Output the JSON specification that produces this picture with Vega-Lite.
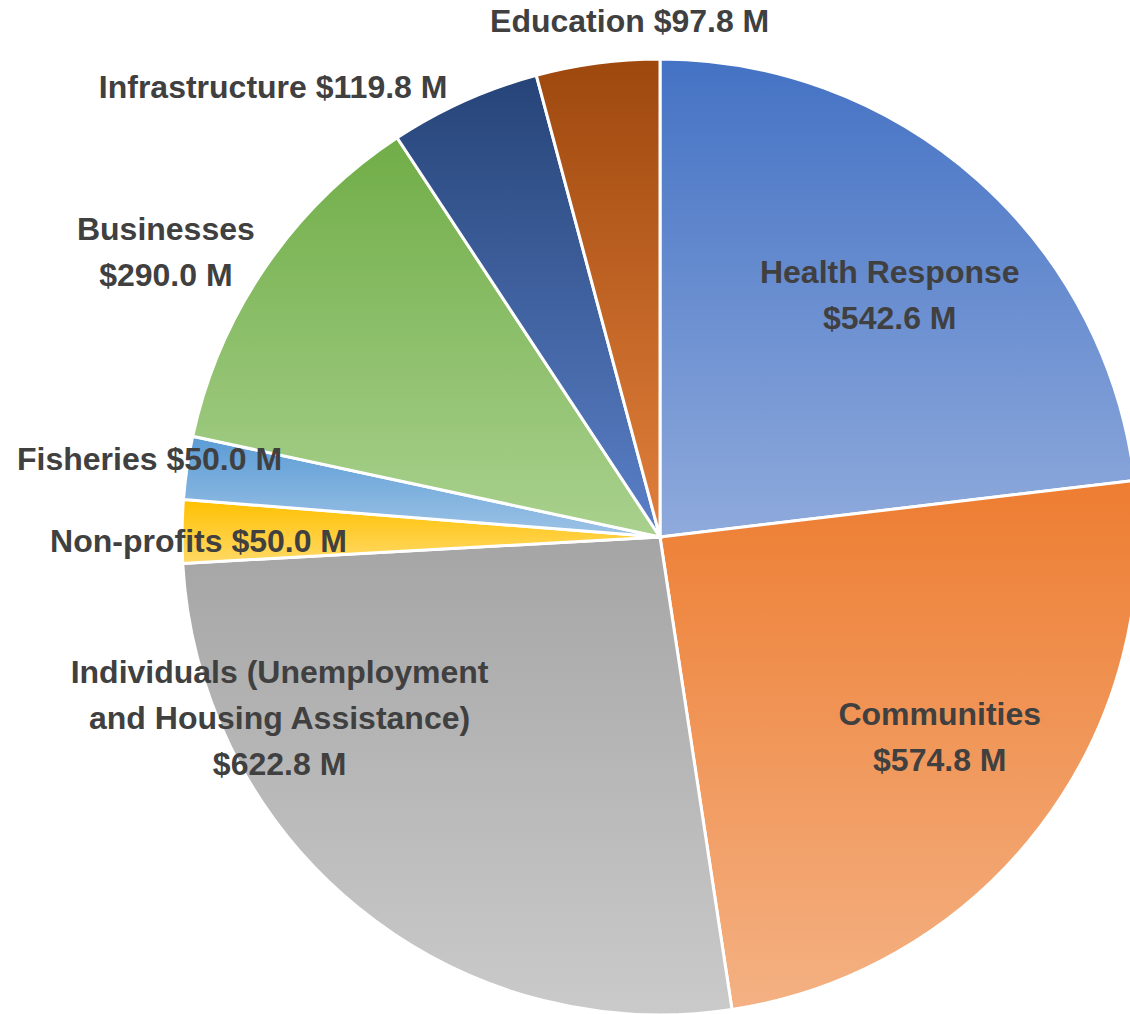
{
  "$schema": "https://vega.github.io/schema/vega-lite/v6.json",
  "width": 956,
  "height": 956,
  "autosize": "none",
  "padding": {"left": 182, "top": 59, "right": 0, "bottom": 0},
  "background": "white",
  "config": {"view": {"stroke": null}},
  "data": {
    "values": [
      {"order": 1, "category": "Health Response", "value": 542.6, "label": "Health Response\n$542.6 M"},
      {"order": 2, "category": "Communities", "value": 574.8, "label": "Communities\n$574.8 M"},
      {"order": 3, "category": "Individuals", "value": 622.8, "label": "Individuals (Unemployment\nand Housing Assistance)\n$622.8 M"},
      {"order": 4, "category": "Non-profits", "value": 50.0, "label": "Non-profits $50.0 M"},
      {"order": 5, "category": "Fisheries", "value": 50.0, "label": "Fisheries $50.0 M"},
      {"order": 6, "category": "Businesses", "value": 290.0, "label": "Businesses\n$290.0 M"},
      {"order": 7, "category": "Infrastructure", "value": 119.8, "label": "Infrastructure $119.8 M"},
      {"order": 8, "category": "Education", "value": 97.8, "label": "Education $97.8 M"}
    ]
  },
  "transform": [
    {"stack": "value", "groupby": [], "sort": [{"field": "order", "order": "ascending"}], "as": ["start", "end"]},
    {"calculate": "(datum.start + datum.end) / 2", "as": "mid"}
  ],
  "layer": [
    {
      "transform": [{"filter": "datum.category === 'Health Response'"}],
      "mark": {"type": "arc", "outerRadius": 478, "stroke": "white", "strokeWidth": 3,
        "fill": {"gradient": "linear", "x1": 0, "y1": 0, "x2": 0, "y2": 1, "stops": [{"offset": 0, "color": "#4472C4"}, {"offset": 1, "color": "#8FAADC"}]}},
      "encoding": {"theta": {"field": "start", "type": "quantitative", "scale": {"domain": [0, 2347.8]}}, "theta2": {"field": "end"}}
    },
    {
      "transform": [{"filter": "datum.category === 'Communities'"}],
      "mark": {"type": "arc", "outerRadius": 478, "stroke": "white", "strokeWidth": 3,
        "fill": {"gradient": "linear", "x1": 0, "y1": 0, "x2": 0, "y2": 1, "stops": [{"offset": 0, "color": "#ED7D31"}, {"offset": 1, "color": "#F4B183"}]}},
      "encoding": {"theta": {"field": "start", "type": "quantitative"}, "theta2": {"field": "end"}}
    },
    {
      "transform": [{"filter": "datum.category === 'Individuals'"}],
      "mark": {"type": "arc", "outerRadius": 478, "stroke": "white", "strokeWidth": 3,
        "fill": {"gradient": "linear", "x1": 0, "y1": 0, "x2": 0, "y2": 1, "stops": [{"offset": 0, "color": "#A5A5A5"}, {"offset": 1, "color": "#CACACA"}]}},
      "encoding": {"theta": {"field": "start", "type": "quantitative"}, "theta2": {"field": "end"}}
    },
    {
      "transform": [{"filter": "datum.category === 'Non-profits'"}],
      "mark": {"type": "arc", "outerRadius": 478, "stroke": "white", "strokeWidth": 3,
        "fill": {"gradient": "linear", "x1": 0, "y1": 0, "x2": 0, "y2": 1, "stops": [{"offset": 0, "color": "#FFC000"}, {"offset": 1, "color": "#FFD966"}]}},
      "encoding": {"theta": {"field": "start", "type": "quantitative"}, "theta2": {"field": "end"}}
    },
    {
      "transform": [{"filter": "datum.category === 'Fisheries'"}],
      "mark": {"type": "arc", "outerRadius": 478, "stroke": "white", "strokeWidth": 3,
        "fill": {"gradient": "linear", "x1": 0, "y1": 0, "x2": 0, "y2": 1, "stops": [{"offset": 0, "color": "#5B9BD5"}, {"offset": 1, "color": "#9DC3E6"}]}},
      "encoding": {"theta": {"field": "start", "type": "quantitative"}, "theta2": {"field": "end"}}
    },
    {
      "transform": [{"filter": "datum.category === 'Businesses'"}],
      "mark": {"type": "arc", "outerRadius": 478, "stroke": "white", "strokeWidth": 3,
        "fill": {"gradient": "linear", "x1": 0, "y1": 0, "x2": 0, "y2": 1, "stops": [{"offset": 0, "color": "#70AD47"}, {"offset": 1, "color": "#A9D18E"}]}},
      "encoding": {"theta": {"field": "start", "type": "quantitative"}, "theta2": {"field": "end"}}
    },
    {
      "transform": [{"filter": "datum.category === 'Infrastructure'"}],
      "mark": {"type": "arc", "outerRadius": 478, "stroke": "white", "strokeWidth": 3,
        "fill": {"gradient": "linear", "x1": 0, "y1": 0, "x2": 0, "y2": 1, "stops": [{"offset": 0, "color": "#264478"}, {"offset": 1, "color": "#5B80C8"}]}},
      "encoding": {"theta": {"field": "start", "type": "quantitative"}, "theta2": {"field": "end"}}
    },
    {
      "transform": [{"filter": "datum.category === 'Education'"}],
      "mark": {"type": "arc", "outerRadius": 478, "stroke": "white", "strokeWidth": 3,
        "fill": {"gradient": "linear", "x1": 0, "y1": 0, "x2": 0, "y2": 1, "stops": [{"offset": 0, "color": "#9E480E"}, {"offset": 1, "color": "#E2803C"}]}},
      "encoding": {"theta": {"field": "start", "type": "quantitative"}, "theta2": {"field": "end"}}
    },
    {
      "transform": [{"filter": "datum.category === 'Health Response'"}],
      "mark": {"type": "text", "radius": 334, "dx": 8, "dy": -14, "font": "Liberation Sans", "fontSize": 32, "fontWeight": "bold", "color": "#404040", "lineBreak": "\n", "lineHeight": 46},
      "encoding": {"theta": {"field": "mid", "type": "quantitative", "stack": null}, "text": {"field": "label"}}
    },
    {
      "transform": [{"filter": "datum.category === 'Communities'"}],
      "mark": {"type": "text", "radius": 344, "dx": 6, "dy": -30, "font": "Liberation Sans", "fontSize": 32, "fontWeight": "bold", "color": "#404040", "lineBreak": "\n", "lineHeight": 46},
      "encoding": {"theta": {"field": "mid", "type": "quantitative", "stack": null}, "text": {"field": "label"}}
    },
    {
      "transform": [{"filter": "datum.category === 'Individuals'"}],
      "mark": {"type": "text", "radius": 421, "dx": -115, "dy": -191, "font": "Liberation Sans", "fontSize": 32, "fontWeight": "bold", "color": "#404040", "lineBreak": "\n", "lineHeight": 46},
      "encoding": {"theta": {"field": "mid", "type": "quantitative", "stack": null}, "text": {"field": "label"}}
    },
    {
      "transform": [{"filter": "datum.category === 'Non-profits'"}],
      "mark": {"type": "text", "radius": 313, "dx": 0, "dy": 9, "align": "right", "font": "Liberation Sans", "fontSize": 32, "fontWeight": "bold", "color": "#404040"},
      "encoding": {"theta": {"field": "mid", "type": "quantitative", "stack": null}, "text": {"field": "label"}}
    },
    {
      "transform": [{"filter": "datum.category === 'Fisheries'"}],
      "mark": {"type": "text", "radius": 386, "dx": 4, "dy": -21, "align": "right", "font": "Liberation Sans", "fontSize": 32, "fontWeight": "bold", "color": "#404040"},
      "encoding": {"theta": {"field": "mid", "type": "quantitative", "stack": null}, "text": {"field": "label"}}
    },
    {
      "transform": [{"filter": "datum.category === 'Businesses'"}],
      "mark": {"type": "text", "radius": 571, "dx": -23, "dy": 16, "font": "Liberation Sans", "fontSize": 32, "fontWeight": "bold", "color": "#404040", "lineBreak": "\n", "lineHeight": 46},
      "encoding": {"theta": {"field": "mid", "type": "quantitative", "stack": null}, "text": {"field": "label"}}
    },
    {
      "transform": [{"filter": "datum.category === 'Infrastructure'"}],
      "mark": {"type": "text", "radius": 497, "dx": -9, "dy": 4, "align": "right", "font": "Liberation Sans", "fontSize": 32, "fontWeight": "bold", "color": "#404040"},
      "encoding": {"theta": {"field": "mid", "type": "quantitative", "stack": null}, "text": {"field": "label"}}
    },
    {
      "transform": [{"filter": "datum.category === 'Education'"}],
      "mark": {"type": "text", "radius": 516, "dx": 37, "dy": -3, "font": "Liberation Sans", "fontSize": 32, "fontWeight": "bold", "color": "#404040"},
      "encoding": {"theta": {"field": "mid", "type": "quantitative", "stack": null}, "text": {"field": "label"}}
    }
  ]
}
